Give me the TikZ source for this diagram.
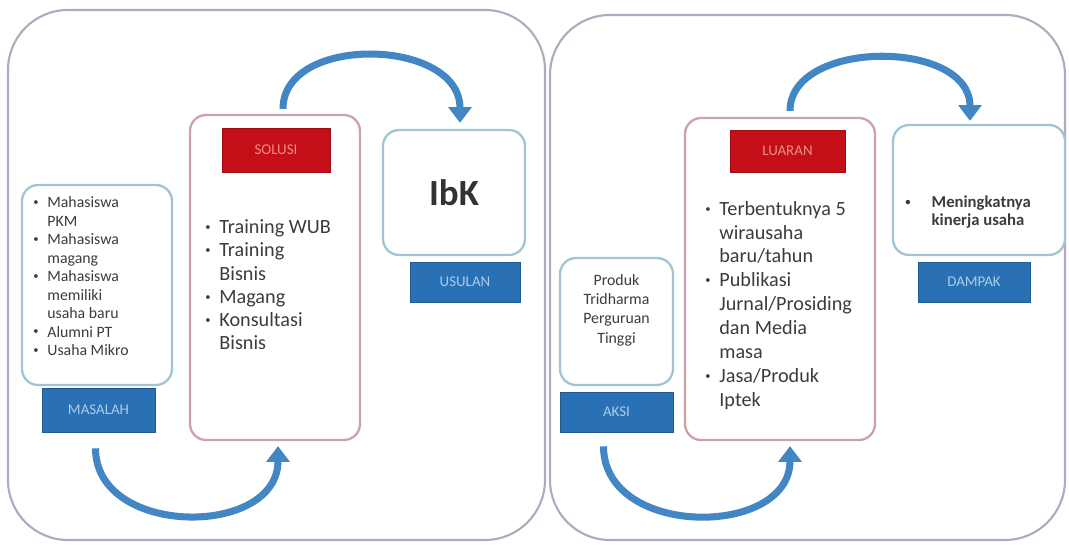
\documentclass[tikz,border=0pt]{standalone}
\usepackage{fontspec}
\setmainfont{Carlito}
\usetikzlibrary{arrows.meta}
\definecolor{framegray}{RGB}{178,168,192}
\definecolor{boxblue}{RGB}{160,196,212}
\definecolor{boxpink}{RGB}{206,160,170}
\definecolor{tagblue}{RGB}{42,112,180}
\definecolor{tagtext}{RGB}{170,205,236}
\definecolor{tagred}{RGB}{196,14,24}
\definecolor{tagredtext}{RGB}{238,140,140}
\definecolor{flowblue}{RGB}{66,134,196}
\definecolor{txt}{RGB}{60,60,60}
\newcommand{\blist}[1]{\begin{tabular}{@{}l@{\hspace{5pt}}l@{}}#1\end{tabular}}
\newcommand{\bul}{\raisebox{0.3ex}{\fontsize{6}{6}\selectfont\textbullet}}

\begin{document}
\begin{tikzpicture}[x=0.02cm,y=0.02cm,
  frame/.style={draw=framegray,line width=1.2pt,rounded corners=1.2cm},
  bluebox/.style={draw=boxblue,line width=1.3pt,rounded corners=0.32cm,fill=white},
  pinkbox/.style={draw=boxpink,line width=1.3pt,rounded corners=0.32cm,fill=white},
  bluetag/.style={fill=tagblue,draw=tagblue!80!black,text=tagtext,font=\fontsize{8.5}{10}\selectfont},
  redtag/.style={fill=tagred,draw=tagred!80!black,text=tagredtext,font=\fontsize{8.5}{10}\selectfont},
  flow/.style={draw=flowblue,line width=4pt,-{Triangle[width=13pt,length=9pt]}},
  body/.style={text=txt,align=left,inner sep=0pt}]
\useasboundingbox (0,0) rectangle (1069,546);

% outer frames
\draw[frame] (8,6) rectangle (545,536);
\draw[frame] (550,6) rectangle (1065,531);

% left half
\node[bluebox,minimum width=3cm,minimum height=4cm] (masalah) at (97,261) {};
\node[bluetag,minimum width=2.26cm,minimum height=0.88cm] (masalahtag) at (98.5,136) {MASALAH};
\node[body,anchor=west,font=\fontsize{9}{10.5}\selectfont] (masalahtxt) at (33,268)
  {\blist{\bul & Mahasiswa\\ & PKM\\ \bul & Mahasiswa\\ & magang\\ \bul & Mahasiswa\\ & memiliki\\ & usaha baru\\ \bul & Alumni PT\\ \bul & Usaha Mikro}};

\node[pinkbox,minimum width=3.4cm,minimum height=6.5cm] (solusi) at (275,268.5) {};
\node[redtag,minimum width=2.16cm,minimum height=0.88cm] (solusitag) at (276,396) {SOLUSI};
\node[body,anchor=west,font=\fontsize{11.5}{13.2}\selectfont] (solusitxt) at (205,259)
  {\blist{\bul & Training WUB\\ \bul & Training\\ & Bisnis\\ \bul & Magang\\ \bul & Konsultasi\\ & Bisnis}};

\node[bluebox,minimum width=2.84cm,minimum height=2.5cm,font=\fontsize{21}{24}\bfseries,text=black!80] (ibk) at (454,353.5) {IbK};
\node[bluetag,minimum width=2.2cm,minimum height=0.8cm] (usulan) at (465,264) {USULAN};

% right half
\node[bluebox,minimum width=2.26cm,minimum height=2.54cm] (aksi) at (616.5,224.5) {};
\node[body,align=center,font=\fontsize{9}{11}\selectfont] (aksitxt) at (616.5,236)
  {Produk\\ Tridharma\\ Perguruan\\ Tinggi};
\node[bluetag,minimum width=2.26cm,minimum height=0.8cm] (aksitag) at (616.5,134) {AKSI};

\node[pinkbox,minimum width=3.8cm,minimum height=6.44cm] (luaran) at (780,267) {};
\node[redtag,minimum width=2.3cm,minimum height=0.84cm] (luarantag) at (787.5,395) {LUARAN};
\node[body,anchor=west,font=\fontsize{11.5}{13.6}\selectfont] (luarantxt) at (705,240)
  {\blist{\bul & Terbentuknya 5\\ & wirausaha\\ & baru/tahun\\ \bul & Publikasi\\ & Jurnal/Prosiding\\ & dan Media\\ & masa\\ \bul & Jasa/Produk\\ & Iptek}};

\node[bluebox,minimum width=3.44cm,minimum height=2.6cm] (dampak) at (979,356) {};
\node[body,anchor=west,font=\fontsize{9.5}{10.5}\bfseries] (dampaktxt) at (905,333)
  {\begin{tabular}{@{}l@{\hspace{12pt}}l@{}}\bul & Meningkatnya\\ & kinerja usaha\end{tabular}};
\node[bluetag,minimum width=2.24cm,minimum height=0.8cm] (dampaktag) at (974,264) {DAMPAK};

% curved arrows
\draw[flow] ([shift={(8,5)}]solusi.north) .. controls +(0,75) and +(0,85) .. ([shift={(6,6)}]ibk.north);
\draw[flow] ([shift={(-3,-16)}]masalahtag.south) .. controls +(0,-89) and +(0,-92) .. ([shift={(3,-5)}]solusi.south);
\draw[flow] ([shift={(10,6)}]luaran.north) .. controls +(0,72) and +(0,82) .. ([shift={(-9,3)}]dampak.north);
\draw[flow] ([shift={(-13,-14)}]aksitag.south) .. controls +(0,-92) and +(0,-92) .. ([shift={(10,-5)}]luaran.south);
\end{tikzpicture}
\end{document}
